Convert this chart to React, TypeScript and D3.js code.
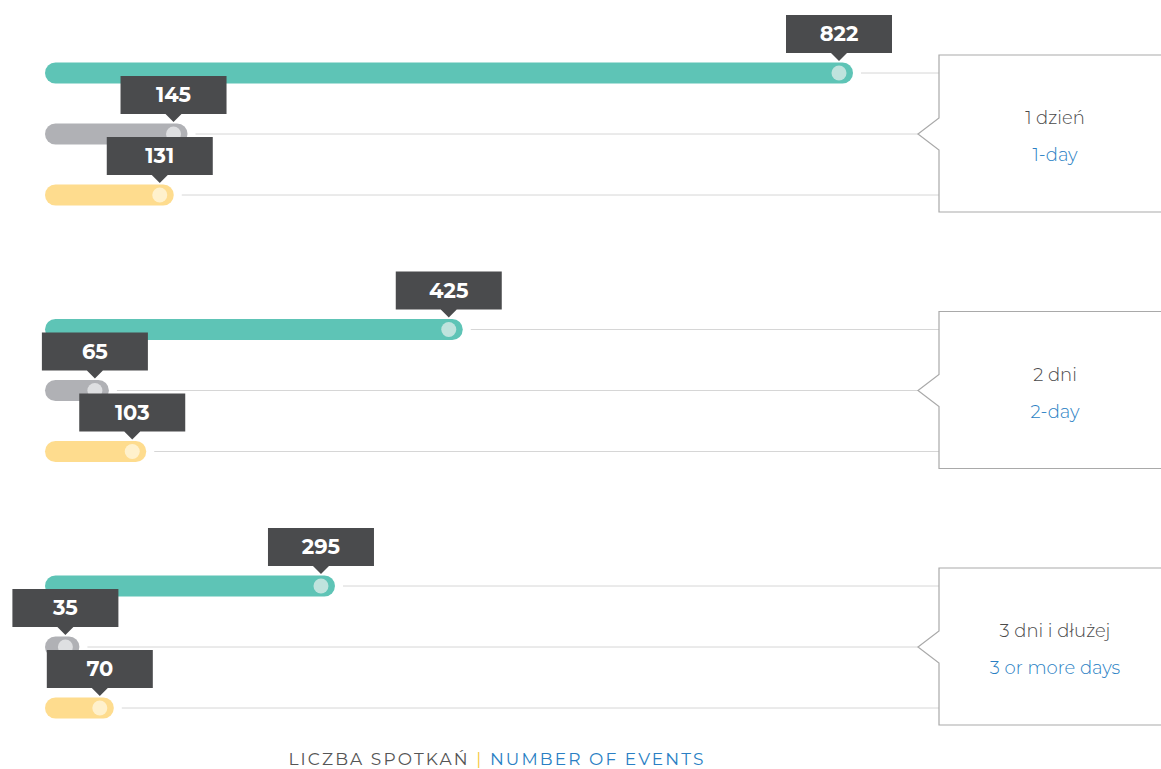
import React from "react";
import * as d3 from "d3";

const categoriesPL = ["1 dzień", "2 dni", "3 dni i dłużej"];
const categoriesEN = ["1-day", "2-day", "3 or more days"];
const seriesTeal = [822, 425, 295];
const seriesGray = [145, 65, 35];
const seriesYellow = [131, 103, 70];
const titlePL = "LICZBA SPOTKAŃ";
const titleEN = "NUMBER OF EVENTS";

const W = 1161;
const H = 769;

const seriesStyles = [
  { fill: "#5ec4b6", dot: "#bfe3dd" },
  { fill: "#b0b1b5", dot: "#dedfe1" },
  { fill: "#fedc8e", dot: "#fff1cc" },
];

export default function App() {
  const x = d3.scaleLinear().domain([0, 822]).range([45, 853]);
  const groupY = d3.scaleLinear().domain([0, 2]).range([73, 586]);
  const rowStep = 61;
  const barH = 21;
  const boxX = 939;
  const allSeries = [seriesTeal, seriesGray, seriesYellow];
  const font = "Montserrat, 'Open Sans', Lato, sans-serif";

  return (
    <svg
      width={W}
      height={H}
      style={{ position: "absolute", left: 0, top: 0, background: "#fff" }}
    >
      {categoriesPL.map((cat, g) => {
        const y0 = groupY(g);
        const mid = y0 + rowStep;
        return (
          <g key={cat}>
            {allSeries.map((s, r) => {
              const y = y0 + r * rowStep;
              const xe = x(s[g]);
              return (
                <line
                  key={"l" + r}
                  x1={xe + 8}
                  x2={r === 1 ? 918 : boxX}
                  y1={y}
                  y2={y}
                  stroke="#d6d6d6"
                  strokeWidth={1}
                />
              );
            })}
            <path
              d={`M${boxX + 260},${mid - 79} L${boxX},${mid - 79} L${boxX},${mid - 16} L918,${mid} L${boxX},${mid + 16} L${boxX},${mid + 78} L${boxX + 260},${mid + 78}`}
              fill="#fff"
              stroke="#a9a9a9"
              strokeWidth={1.2}
            />
            <text
              x={1055}
              y={mid - 10}
              textAnchor="middle"
              fontFamily={font}
              fontWeight={300}
              fontSize={18}
              fill="#4a4a4a"
            >
              {cat}
            </text>
            <text
              x={1055}
              y={mid + 27}
              textAnchor="middle"
              fontFamily={font}
              fontWeight={300}
              fontSize={18}
              fill="#2a7fc4"
            >
              {categoriesEN[g]}
            </text>
            {allSeries.map((s, r) => {
              const y = y0 + r * rowStep;
              const xe = x(s[g]);
              const x0 = x(0);
              return (
                <rect
                  key={"b" + r}
                  x={x0}
                  y={y - barH / 2}
                  width={xe - x0}
                  height={barH}
                  rx={barH / 2}
                  fill={seriesStyles[r].fill}
                />
              );
            })}
            {allSeries.map((s, r) => {
              const y = y0 + r * rowStep;
              const cx = x(s[g]) - 14;
              return (
                <g key={"t" + r}>
                  <circle cx={cx} cy={y} r={7.5} fill={seriesStyles[r].dot} />
                  <path
                    d={`M${cx - 53},${y - 58} H${cx + 53} V${y - 20} H${cx + 8} L${cx},${y - 12} L${cx - 8},${y - 20} H${cx - 53} Z`}
                    fill="#4a4b4d"
                  />
                  <text
                    x={cx}
                    y={y - 32}
                    textAnchor="middle"
                    fontFamily={font}
                    fontWeight={700}
                    fontSize={21}
                    fill="#fff"
                  >
                    {s[g]}
                  </text>
                </g>
              );
            })}
          </g>
        );
      })}
      <text
        x={497}
        y={765}
        textAnchor="middle"
        fontFamily={font}
        fontSize={17}
        letterSpacing={2.1}
        fill="#555"
      >
        <tspan fill="#555">{titlePL} </tspan>
        <tspan fill="#f5c842">|</tspan>
        <tspan fill="#2a7fc4"> {titleEN}</tspan>
      </text>
    </svg>
  );
}
